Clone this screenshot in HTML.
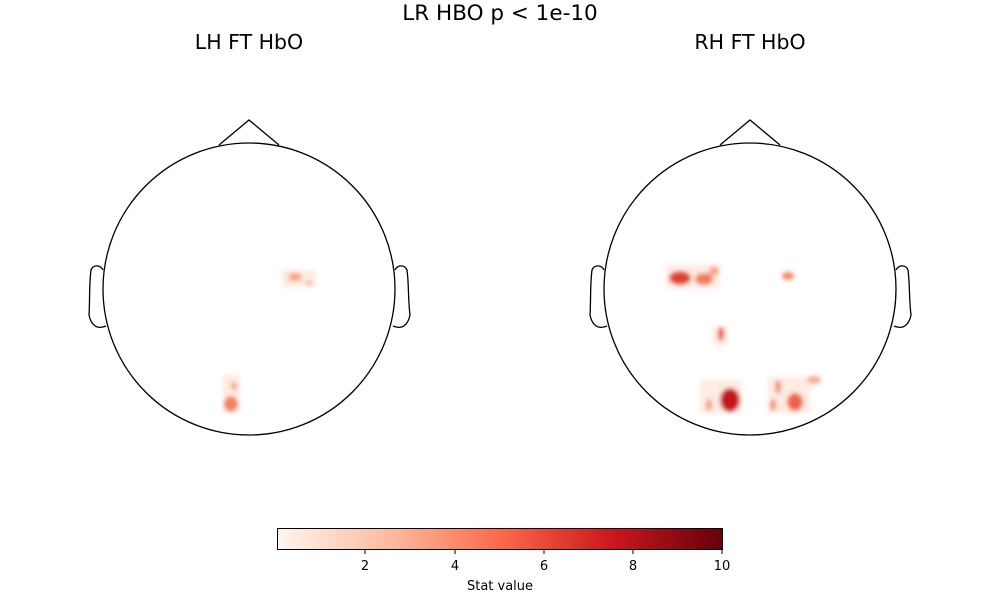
<!DOCTYPE html>
<html><head><style>body{margin:0;background:#fff}svg{display:block}</style></head><body>
<svg width="1000" height="600" xmlns="http://www.w3.org/2000/svg" font-family="DejaVu Sans, sans-serif">
<defs>
<filter id="b" x="-50%" y="-50%" width="200%" height="200%"><feGaussianBlur stdDeviation="2"/></filter>
<linearGradient id="g" x1="0" x2="1"><stop offset="0" stop-color="#fff5f0"/><stop offset="0.25" stop-color="#fcbba1"/><stop offset="0.5" stop-color="#fb6a4a"/><stop offset="0.75" stop-color="#cb181d"/><stop offset="1" stop-color="#67000d"/></linearGradient>
</defs>
<text x="500" y="20" font-size="21.5" text-anchor="middle">LR HBO p &lt; 1e-10</text>
<text x="249" y="49" font-size="20.5" text-anchor="middle">LH FT HbO</text>
<text x="750" y="49" font-size="20.5" text-anchor="middle">RH FT HbO</text>
<g filter="url(#b)">
<rect x="282" y="270" width="34" height="17" fill="#feebe2"/>
<ellipse cx="295" cy="277" rx="7" ry="4" fill="#f9a080"/>
<ellipse cx="309" cy="283" rx="3" ry="3" fill="#fbb59b"/>
<rect x="223" y="375" width="17" height="37" fill="#feebe2"/>
<ellipse cx="231" cy="404" rx="7" ry="8" fill="#f6805e"/>
<ellipse cx="234" cy="386" rx="3" ry="4" fill="#f9977a"/>

<rect x="666" y="265" width="54" height="23" fill="#feebe2"/>
<ellipse cx="680" cy="278" rx="11" ry="7" fill="#e0412e"/>
<ellipse cx="704" cy="279" rx="9" ry="6" fill="#f07a5c"/>
<ellipse cx="714" cy="271" rx="5" ry="5" fill="#f7a68a"/>
<ellipse cx="788" cy="276" rx="6" ry="4" fill="#f5876a"/>
<rect x="713" y="327" width="15" height="18" fill="#feebe2"/>
<ellipse cx="721" cy="334" rx="3" ry="7" fill="#e8513a"/>
<rect x="700" y="380" width="42" height="33" fill="#feebe2"/>
<ellipse cx="730" cy="400" rx="10" ry="12" fill="#c4161c"/>
<ellipse cx="709" cy="405" rx="3" ry="6" fill="#f39577"/>
<rect x="768" y="377" width="42" height="36" fill="#feebe2"/>
<ellipse cx="795" cy="402" rx="8" ry="9" fill="#ec6448"/>
<ellipse cx="778" cy="387" rx="3" ry="7" fill="#f38a6c"/>
<ellipse cx="773" cy="405" rx="3" ry="6" fill="#f38a6c"/>
<ellipse cx="814" cy="380" rx="7" ry="4" fill="#f8ab90"/>
</g>
<g fill="none" stroke="#000" stroke-width="1.3">
<circle cx="249" cy="289" r="146"/>
<polyline points="219,145 249,120 279,145"/>
<path d="M103,270 C100,264 93,265 91,270 C89,285 90,300 89,315 C91,325 97,330 106,326"/>
<path d="M395,270 C398,264 405,265 407,270 C409,285 408,300 410,315 C408,325 402,330 393,326"/>
<circle cx="750" cy="289" r="146"/>
<polyline points="720,145 750,120 780,145"/>
<path d="M604,270 C601,264 594,265 592,270 C590,285 591,300 590,315 C592,325 598,330 607,326"/>
<path d="M896,270 C899,264 906,265 908,270 C910,285 909,300 911,315 C909,325 903,330 894,326"/>
</g>
<rect x="277.5" y="528.5" width="445" height="21" fill="url(#g)" stroke="#000" stroke-width="1"/>
<g stroke="#000"><line x1="365" y1="550" x2="365" y2="554"/><line x1="455" y1="550" x2="455" y2="554"/><line x1="544" y1="550" x2="544" y2="554"/><line x1="633" y1="550" x2="633" y2="554"/><line x1="722" y1="550" x2="722" y2="554"/></g>
<g font-size="13" text-anchor="middle"><text x="365" y="570">2</text><text x="455" y="570">4</text><text x="544" y="570">6</text><text x="633" y="570">8</text><text x="722" y="570">10</text>
<text x="500" y="590">Stat value</text></g>
</svg>
</body></html>
